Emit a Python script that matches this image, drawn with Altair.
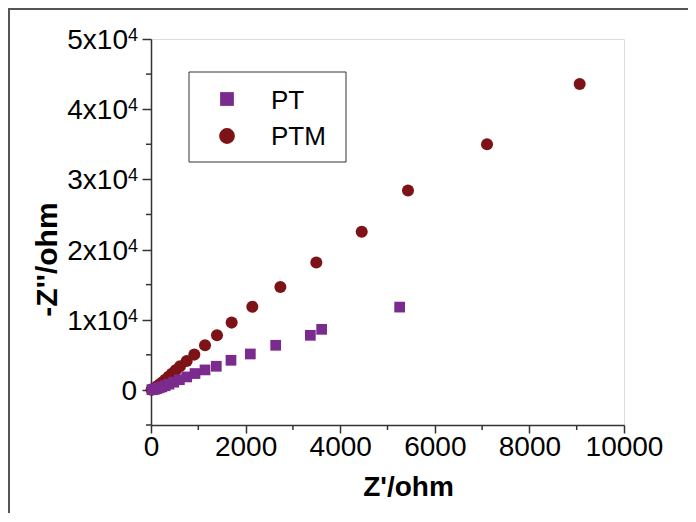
import altair as alt
import pandas as pd

# ---- data ----
pt_x = [20, 45, 80, 120, 170, 230, 300, 380, 480, 600, 755, 930, 1142, 1381, 1691, 2100, 2636, 3369, 3608, 5257]
pt_y = [25, 60, 110, 190, 290, 430, 600, 820, 1100, 1450, 1850, 2330, 2850, 3370, 4220, 5120, 6360, 7780, 8630, 11800]

ptm_x = [12, 35, 65, 100, 140, 185, 240, 300, 370, 440, 520, 613, 755, 916, 1142, 1395, 1705, 2142, 2735, 3495, 4455, 5433, 7104, 9063]
ptm_y = [30, 100, 210, 360, 560, 800, 1100, 1450, 1870, 2300, 2800, 3370, 4130, 5030, 6360, 7780, 9590, 11860, 14650, 18165, 22530, 28400, 35000, 43584]

series_names = ["PT", "PTM"]
series_colors = ["#7B2A8E", "#7D1316"]
series_shapes = ["square", "circle"]

x_major = [0, 2000, 4000, 6000, 8000, 10000]
x_minor = [1000, 3000, 5000, 7000, 9000]
y_major = [0, 10000, 20000, 30000, 40000, 50000]
y_major_base = ["0", "1x10", "2x10", "3x10", "4x10", "5x10"]
y_minor = [-5000, 5000, 15000, 25000, 35000, 45000]

FONT = "Liberation Sans"
W, H = 473, 386

pt_df = pd.DataFrame({"x": pt_x, "y": pt_y})
ptm_df = pd.DataFrame({"x": ptm_x, "y": ptm_y})

xs = alt.Scale(domain=[0, 10000], nice=False, zero=False)
ys = alt.Scale(domain=[-5000, 50000], nice=False, zero=False)

x_axis = alt.Axis(values=x_major, tickSize=8, labelFontSize=28, labelPadding=0,
                  labelFont=FONT, labelColor="black", domainColor="#333", tickColor="#333",
                  domainWidth=1.5, tickWidth=1.5, grid=False, format="d", labelFlush=False,
                  title="Z'/ohm", titleFont=FONT, titleFontSize=28, titleFontWeight="bold",
                  titleX=257, titleY=70, titleBaseline="alphabetic", titleAlign="center")
y_axis = alt.Axis(values=y_major, tickSize=9, labels=False, domainColor="#333", tickColor="#333",
                  domainWidth=1.5, tickWidth=1.5, grid=False,
                  title="-Z''/ohm", titleFont=FONT, titleFontSize=30, titleFontWeight="bold",
                  titleAngle=270, titleX=-95, titleY=220, titleBaseline="alphabetic",
                  titleAlign="center")

ptm_layer = alt.Chart(ptm_df).mark_point(shape="circle", filled=True, opacity=1, size=145,
                                         color=series_colors[1]).encode(
    x=alt.X("x:Q", scale=xs, axis=x_axis),
    y=alt.Y("y:Q", scale=ys, axis=y_axis),
)
pt_layer = alt.Chart(pt_df).mark_point(shape="square", filled=True, opacity=1, size=115,
                                       color=series_colors[0]).encode(
    x=alt.X("x:Q", scale=xs),
    y=alt.Y("y:Q", scale=ys),
)

# minor ticks
xminor_layer = alt.Chart(pd.DataFrame({"v": x_minor})).mark_rule(color="#333", strokeWidth=1.5).encode(
    x=alt.X("v:Q", scale=xs), y=alt.value(H), y2=alt.value(H + 5))
yminor_layer = alt.Chart(pd.DataFrame({"v": y_minor})).mark_rule(color="#333", strokeWidth=1.5).encode(
    y=alt.Y("v:Q", scale=ys), x=alt.value(0), x2=alt.value(-5))

# y tick labels with superscript exponent
ylab_df = pd.DataFrame({"v": y_major, "base": y_major_base,
                        "sup": ["" if b == "0" else "4" for b in y_major_base]})
ylab_main = alt.Chart(ylab_df).transform_filter("datum.v != 0").mark_text(
    align="right", baseline="middle", fontSize=28, font=FONT, color="black", dy=2).encode(
    y=alt.Y("v:Q", scale=ys), x=alt.value(-23), text="base:N")
ylab_sup = alt.Chart(ylab_df).transform_filter("datum.v != 0").mark_text(
    align="left", baseline="middle", fontSize=18, font=FONT, color="black", dy=-3).encode(
    y=alt.Y("v:Q", scale=ys), x=alt.value(-23), text="sup:N")
ylab_zero = alt.Chart(ylab_df).transform_filter("datum.v == 0").mark_text(
    align="right", baseline="middle", fontSize=28, font=FONT, color="black", dy=2).encode(
    y=alt.Y("v:Q", scale=ys), x=alt.value(-14), text="base:N")

# legend
one = pd.DataFrame({"a": [0]})
leg_box = alt.Chart(one).mark_rect(fill="white", stroke="#333", strokeWidth=1).encode(
    x=alt.value(38), x2=alt.value(195), y=alt.value(33), y2=alt.value(123))
leg_df = pd.DataFrame({"name": series_names, "row": [0, 1]})
leg_pt = alt.Chart(leg_df).transform_filter("datum.row == 0").mark_point(
    shape=series_shapes[0], filled=True, opacity=1, size=190, color=series_colors[0]).encode(
    x=alt.value(76), y=alt.value(60))
leg_ptm = alt.Chart(leg_df).transform_filter("datum.row == 1").mark_point(
    shape=series_shapes[1], filled=True, opacity=1, size=250, color=series_colors[1]).encode(
    x=alt.value(76), y=alt.value(97))
leg_t0 = alt.Chart(leg_df).transform_filter("datum.row == 0").mark_text(
    align="left", baseline="middle", fontSize=26, font=FONT, color="black").encode(
    x=alt.value(120), y=alt.value(62), text="name:N")
leg_t1 = alt.Chart(leg_df).transform_filter("datum.row == 1").mark_text(
    align="left", baseline="middle", fontSize=26, font=FONT, color="black").encode(
    x=alt.value(120), y=alt.value(98), text="name:N")

# outer frame (top and left edges of the figure)
frame_top = alt.Chart(one).mark_rule(color="#555", strokeWidth=2).encode(
    x=alt.value(-143), x2=alt.value(W + 64), y=alt.value(-30))
frame_left = alt.Chart(one).mark_rule(color="#555", strokeWidth=2).encode(
    x=alt.value(-142), y=alt.value(-31), y2=alt.value(H + 90))

chart = alt.layer(
    frame_top, frame_left,
    ptm_layer, pt_layer, xminor_layer, yminor_layer,
    ylab_main, ylab_sup, ylab_zero,
    leg_box, leg_pt, leg_ptm, leg_t0, leg_t1,
).properties(
    width=W, height=H,
    autosize=alt.AutoSizeParams(type="none"),
    padding={"left": 143, "top": 31, "right": 64, "bottom": 88},
).configure_view(
    stroke="#333", strokeWidth=1.5
).configure(background="white")

chart.save("out.html", embed_options={"renderer": "svg", "actions": False})
